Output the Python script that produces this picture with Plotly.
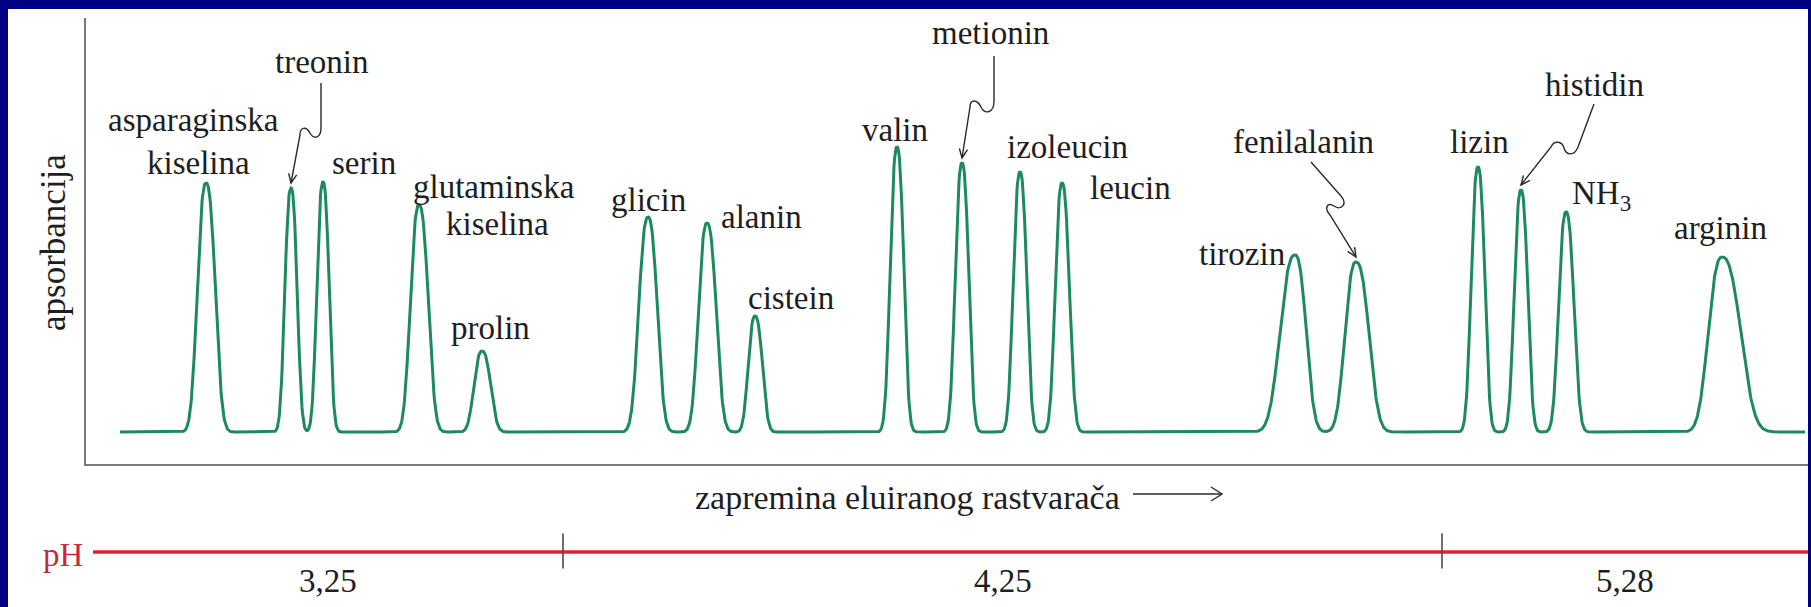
import numpy as np
import plotly.graph_objects as go

# ---------------------------------------------------------------------------
# Chromatogram data (elution volume and absorbance in arbitrary units)
# ---------------------------------------------------------------------------
amino_acids = ["asparaginska kiselina", "treonin", "serin", "glutaminska kiselina",
               "prolin", "glicin", "alanin", "cistein", "valin", "metionin",
               "izoleucin", "leucin", "tirozin", "fenilalanin", "lizin",
               "histidin", "NH3", "arginin"]
peak_volume = [120, 205, 237, 333, 396, 562, 621, 669, 811, 876, 934, 976,
               1209, 1270, 1392, 1435, 1480, 1636]
peak_absorbance = [281, 276, 282, 259, 113, 247, 241, 148, 317, 301, 292, 281,
                   209, 202, 297, 274, 252, 207]
peak_width_left = [7.0, 5.0, 5.0, 7.0, 6.5, 7.5, 7.0, 5.5, 5.5, 5.5, 5.5, 5.5,
                   12.0, 9.0, 5.5, 5.5, 6.0, 11.0]
peak_width_right = [7.5, 5.0, 5.0, 7.5, 7.0, 7.5, 7.5, 6.0, 5.5, 5.5, 5.5, 6.0,
                    9.0, 10.5, 5.5, 5.5, 6.5, 15.0]
baseline_absorbance = 32
volume_start, volume_end = 34, 1719

# pH steps of the eluting buffer
ph_values = [3.25, 4.25, 5.28]
ph_boundaries = [7, 477, 1356, 1722]

# ---------------------------------------------------------------------------
# Figure geometry and style
# ---------------------------------------------------------------------------
W, H = 1811, 607
M_L, M_R, M_T, M_B = 86, 3, 18, 0
X_RANGE = [0, 1722]
Y_RANGE = [0, 446]
PAPER_H = H - M_T - M_B
PLOT_W = W - M_L - M_R
MAIN_BOTTOM = (H - 464 - M_B) / PAPER_H

NAVY = "#000080"
GREEN = "#1d8a5e"
RED = "#e3212b"
TEXT = "#1e1e1e"
ARROW = "#2a2a2a"
FONT = "Liberation Serif, Times New Roman, serif"
FS = 33
PEAK_EXPONENT = 2.5   # >2 gives the steep-sided, rounded-top band profile


def px_to_paper(px, py):
    return (px - M_L) / PLOT_W, (H - M_B - py) / PAPER_H


# Chromatogram curve: every component elutes as a smooth, slightly skewed band.
# Widths are given as Gaussian-equivalent sigmas; the base width is preserved.
volume = np.arange(volume_start, volume_end + 0.25, 0.5)
absorbance = np.full_like(volume, float(baseline_absorbance))
base_scale = np.sqrt(2 * np.log(20)) / np.log(20) ** (1 / PEAK_EXPONENT)
for c, h, wl, wr in zip(peak_volume, peak_absorbance, peak_width_left, peak_width_right):
    s = np.where(volume < c, wl, wr) * base_scale
    absorbance += (h - baseline_absorbance) * np.exp(-np.abs((volume - c) / s) ** PEAK_EXPONENT)

fig = go.Figure()
fig.add_trace(go.Scatter(x=volume, y=absorbance, mode="lines",
                         line=dict(color=GREEN, width=3), hoverinfo="skip",
                         xaxis="x", yaxis="y"))

# pH scale below the chromatogram
fig.add_trace(go.Scatter(x=[ph_boundaries[0], ph_boundaries[-1]], y=[0, 0], mode="lines",
                         line=dict(color=RED, width=3.5), hoverinfo="skip",
                         xaxis="x2", yaxis="y2"))
fig.add_trace(go.Scatter(x=ph_boundaries[1:-1], y=[0.03] * (len(ph_boundaries) - 2),
                         mode="markers",
                         marker=dict(symbol="line-ns", size=25,
                                     line=dict(color="#4a4a4a", width=1.6)),
                         hoverinfo="skip", xaxis="x2", yaxis="y2"))

annotations = []
for a, b, v in zip(ph_boundaries[:-1], ph_boundaries[1:], ph_values):
    annotations.append(dict(text=f"{v:.2f}".replace(".", ","), x=(a + b) / 2, y=-0.95,
                            xref="x2", yref="y2", showarrow=False,
                            xanchor="center", yanchor="middle",
                            font=dict(family=FONT, size=FS, color=TEXT)))

# Peak labels (x, y in chart units)
label_positions = [
    ("asparaginska", 107, 344), ("kiselina", 112, 301),
    ("treonin", 235, 402), ("serin", 278, 301),
    ("glutaminska", 408, 277), ("kiselina", 411, 240),
    ("prolin", 404, 136), ("glicin", 562, 264), ("alanin", 675, 247),
    ("cistein", 705, 166), ("valin", 809, 334), ("metionin", 904, 431),
    ("izoleucin", 981, 317), ("leucin", 1044, 276), ("tirozin", 1156, 210),
    ("fenilalanin", 1217, 322), ("lizin", 1393, 322), ("histidin", 1508, 379),
    ("NH<sub>3</sub>", 1515, 269), ("arginin", 1634, 236),
]
for text, x, y in label_positions:
    annotations.append(dict(text=text, x=x, y=y, xref="x", yref="y",
                            showarrow=False, xanchor="center", yanchor="middle",
                            font=dict(family=FONT, size=FS, color=TEXT)))

# Axis titles
tx, ty = px_to_paper(907, 497)
annotations.append(dict(text="zapremina eluiranog rastvarača", x=tx, y=ty,
                        xref="paper", yref="paper", showarrow=False,
                        xanchor="center", yanchor="middle",
                        font=dict(family=FONT, size=FS + 1, color=TEXT)))
tx, ty = px_to_paper(53, 243)
annotations.append(dict(text="apsorbancija", x=tx, y=ty, xref="paper", yref="paper",
                        showarrow=False, textangle=-90, xanchor="center",
                        yanchor="middle",
                        font=dict(family=FONT, size=FS + 2, color=TEXT)))
annotations.append(dict(text="pH", x=ph_boundaries[0], y=0, xref="x2", yref="y2",
                        showarrow=False, xanchor="right", yanchor="middle",
                        xshift=-8, yshift=-3,
                        font=dict(family=FONT, size=FS, color="#c8283a")))

shapes = []
# White page inside the navy frame
x0, y0 = px_to_paper(8, 9)
x1, y1 = px_to_paper(1808, 612)
shapes.append(dict(type="rect", xref="paper", yref="paper", x0=x0, y0=y1, x1=x1, y1=y0,
                   fillcolor="white", line=dict(width=0), layer="below"))


def arrow_head(tip, prev, length, half_angle=0.42):
    dx, dy = prev[0] - tip[0], prev[1] - tip[1]
    n = np.hypot(dx, dy)
    ux, uy = dx / n, dy / n
    pts = []
    for a in (half_angle, -half_angle):
        ca, sa = np.cos(a), np.sin(a)
        pts.append((tip[0] + length * (ux * ca - uy * sa),
                    tip[1] + length * (ux * sa + uy * ca)))
    return (f"M {pts[0][0]:.2f},{pts[0][1]:.2f} L {tip[0]:.2f},{tip[1]:.2f} "
            f"L {pts[1][0]:.2f},{pts[1][1]:.2f}")


# Pointer arrows from labels to their peaks (offsets from the arrow tip)
pointer_paths = {
    "treonin": [("M", (30, 100)), ("L", (30, 55)), ("C", (30, 45), (23, 43), (19, 50)),
                ("C", (15, 57), (9, 56), (9, 48)), ("L", (0, 0))],
    "metionin": [("M", (32, 102)), ("L", (32, 57)), ("C", (32, 45), (23, 43), (19, 51)),
                 ("C", (15, 59), (8, 59), (8, 51)), ("L", (0, 0))],
    "fenilalanin": [("M", (-45, 95)), ("L", (-15, 61)), ("C", (-8, 53), (-15, 46), (-22, 51)),
                    ("C", (-29, 56), (-32, 48), (-26, 42)), ("L", (0, 0))],
    "histidin": [("M", (73, 81)), ("L", (57, 38)), ("C", (53, 28), (45, 30), (43, 37)),
                 ("C", (41, 44), (33, 45), (30, 38)), ("L", (0, 0))],
}
tip_gap = 5
for name, segs in pointer_paths.items():
    i = amino_acids.index(name)
    tip = (peak_volume[i], peak_absorbance[i] + tip_gap)
    parts = []
    for seg in segs:
        cmd, pts = seg[0], seg[1:]
        coords = [(tip[0] + dx, tip[1] + dy) for dx, dy in pts]
        parts.append(cmd + " " + " ".join(f"{x:.2f},{y:.2f}" for x, y in coords))
    # direction of the final straight run into the tip
    prev = (tip[0] + segs[-2][-1][0], tip[1] + segs[-2][-1][1])
    shapes.append(dict(type="path", xref="x", yref="y", path=" ".join(parts),
                       line=dict(color=ARROW, width=1.4)))
    shapes.append(dict(type="path", xref="x", yref="y", path=arrow_head(tip, prev, 10),
                       line=dict(color=ARROW, width=1.4)))

# Arrow after the x-axis title
ax0 = px_to_paper(1133, 494)
ax1 = px_to_paper(1222, 494)
shapes.append(dict(type="line", xref="paper", yref="paper", x0=ax0[0], y0=ax0[1],
                   x1=ax1[0], y1=ax1[1], line=dict(color=ARROW, width=1.4)))
hp = px_to_paper(1211, 487)
hq = px_to_paper(1211, 501)
shapes.append(dict(type="path", xref="paper", yref="paper",
                   path=f"M {hp[0]},{hp[1]} L {ax1[0]},{ax1[1]} L {hq[0]},{hq[1]}",
                   line=dict(color=ARROW, width=1.4)))

ph_dom_c = (H - M_B - 552) / PAPER_H
ph_dom_h = 30 / PAPER_H

fig.update_layout(
    width=W, height=H,
    margin=dict(l=M_L, r=M_R, t=M_T, b=M_B, pad=0),
    paper_bgcolor=NAVY, plot_bgcolor="rgba(0,0,0,0)",
    showlegend=False,
    xaxis=dict(domain=[0, 1], range=X_RANGE, showline=True, linecolor="#7a7a7a",
               linewidth=2, showgrid=False, zeroline=False, showticklabels=False,
               ticks="", anchor="y", fixedrange=True),
    yaxis=dict(domain=[MAIN_BOTTOM, 1], range=Y_RANGE, showline=True,
               linecolor="#7a7a7a", linewidth=2, showgrid=False, zeroline=False,
               showticklabels=False, ticks="", anchor="x", fixedrange=True),
    xaxis2=dict(domain=[0, 1], range=X_RANGE, visible=False, anchor="y2",
                fixedrange=True),
    yaxis2=dict(domain=[ph_dom_c - ph_dom_h, ph_dom_c + ph_dom_h], range=[-1, 1],
                visible=False, anchor="x2", fixedrange=True),
    annotations=annotations,
    shapes=shapes,
)

fig.write_html("out.html")
